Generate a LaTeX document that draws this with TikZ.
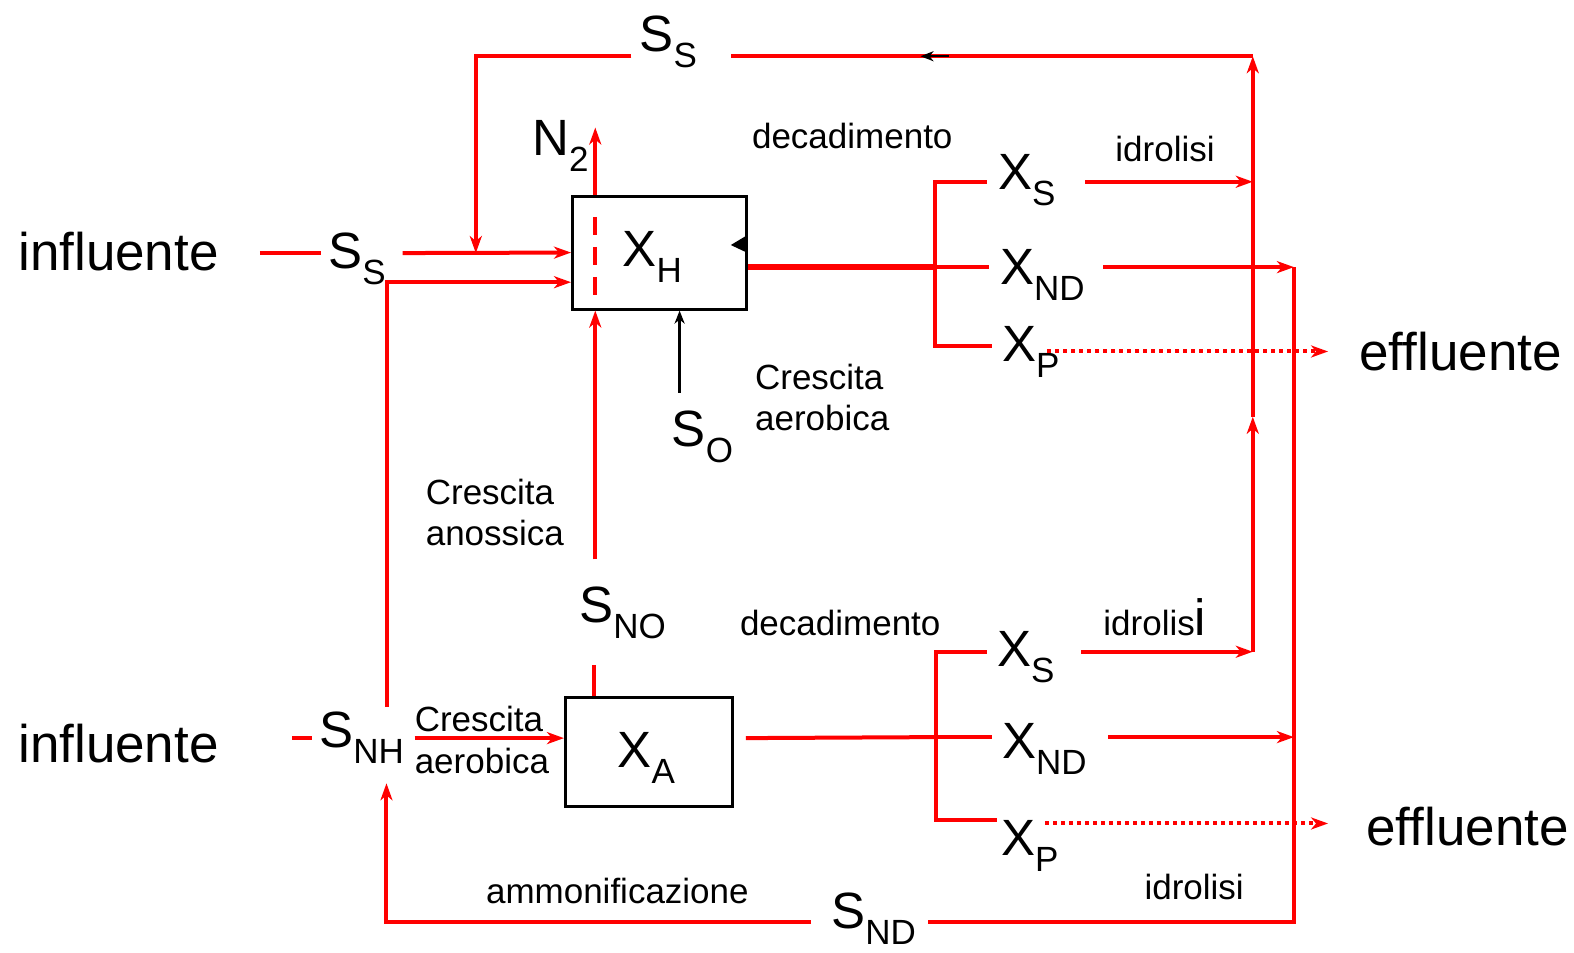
\documentclass[tikz,border=0pt]{standalone}
\usepackage{fontspec}
\setmainfont{Liberation Sans}
\usetikzlibrary{arrows.meta}
\definecolor{flowred}{RGB}{255,0,0}
% main symbol with a lowered subscript
\newcommand{\spc}[2]{#1\raisebox{-16pt}{\fontsize{35}{35}\selectfont #2}}
\begin{document}
\begin{tikzpicture}[x=1.00383pt, y=-1.00422pt,
  flowline/.style={draw=flowred, line width=4pt},
  headred/.style={-{Stealth[length=17pt,width=12pt,inset=5pt]}},
  headblack/.style={draw=black, line width=2.5pt, -{Stealth[length=13pt,width=10pt,inset=4pt]}},
  dotline/.style={flowline, dash pattern=on 4pt off 4pt},
  reactor/.style={draw=black, line width=3pt, minimum width=174pt, minimum height=113pt, inner sep=0pt},
  lbl/.style={inner sep=0pt, anchor=base west},
  bigtxt/.style={lbl, font=\fontsize{51}{51}\selectfont},
  endtxt/.style={lbl, font=\fontsize{53}{53}\selectfont},
  smalltxt/.style={lbl, font=\fontsize{35}{35}\selectfont}]
\useasboundingbox (0,0) rectangle (1568,948);

% ---------- reactors ----------
\node[reactor] (XH) at (657,251.5) {};
\node[reactor, minimum width=167pt, minimum height=109pt] (XA) at (646.5,748.5) {};

% ---------- labels ----------
\node[endtxt] (inf1) at (18,269) {influente};
\node[endtxt] (inf2) at (18,759) {influente};
\node[endtxt] (eff1) at (1354,369) {effluente};
\node[endtxt] (eff2) at (1361,842) {effluente};
\node[bigtxt] (ssL) at (327,267) {\spc{S}{S}};
\node[bigtxt] (ssT) at (637,51) {\spc{S}{S}};
\node[bigtxt] (n2) at (530,155) {\spc{N}{2}};
\node[bigtxt] (xhl) at (620,265) {\spc{X}{H}};
\node[bigtxt] (so) at (669,445) {\spc{S}{O}};
\node[bigtxt] (xs1) at (994,189) {\spc{X}{S}};
\node[bigtxt] (xnd1) at (996,283) {\spc{X}{ND}};
\node[bigtxt] (xp1) at (998,360) {\spc{X}{P}};
\node[bigtxt] (sno) at (577,620) {\spc{S}{NO}};
\node[bigtxt] (xal) at (615,764) {\spc{X}{A}};
\node[bigtxt] (snh) at (318,744) {\spc{S}{NH}};
\node[bigtxt] (xs2) at (993,664) {\spc{X}{S}};
\node[bigtxt] (xnd2) at (998,755) {\spc{X}{ND}};
\node[bigtxt] (xp2) at (997,852) {\spc{X}{P}};
\node[bigtxt] (snd) at (828,925) {\spc{S}{ND}};

\node[smalltxt] (dec1) at (749,148) {decadimento};
\node[smalltxt] (idr1) at (1111,161) {idrolisi};
\node[smalltxt] (cra1) at (752,388) {Crescita};
\node[smalltxt] (cra2) at (752,429) {aerobica};
\node[smalltxt] (cran1) at (424,502) {Crescita};
\node[smalltxt] (cran2) at (424,543) {anossica};
\node[smalltxt] (dec2) at (737,633) {decadimento};
\node[smalltxt] (idr2) at (1099,633) {idrolis{\fontsize{51}{51}\selectfont i}};
\node[smalltxt] (crb1) at (413,728) {Crescita};
\node[smalltxt] (crb2) at (413,770) {aerobica};
\node[smalltxt] (amm) at (484,900) {ammonificazione};
\node[smalltxt] (idr3) at (1140,896) {idrolisi};

% ---------- junction points ----------
\coordinate (tlc) at (474,56);
\coordinate (trc) at (1248,56);
\coordinate (ssTl) at (629,56);
\coordinate (ssTr) at (728,56);
\coordinate (ssjoin) at (474,252);
\coordinate (snhUp) at (386,704);
\coordinate (lcorner) at (386,281);
\coordinate (dnx) at (593,194);
\coordinate (n2tip) at (593,127);
\coordinate (snoTop) at (593,557);
\coordinate (snoBot) at (592,662);
\coordinate (soTail) at (677,391);
\coordinate (brT) at (931,181);
\coordinate (brM) at (931,266);
\coordinate (brB) at (931,345);
\coordinate (brT2) at (932,649);
\coordinate (brM2) at (932,734);
\coordinate (brB2) at (932,817);
\coordinate (hyd1) at (1248,181);
\coordinate (hyd2) at (1248,649);
\coordinate (hydMid) at (1248,415);
\coordinate (ndT) at (1289,266);
\coordinate (ndM) at (1289,734);
\coordinate (ndB) at (1289,918);
\coordinate (sndR) at (924,918);
\coordinate (sndL) at (808,918);
\coordinate (blc) at (385,918);
\coordinate (snhTip) at (385,780);
\coordinate (snhR) at (413,735);

% ---------- S_S recycle loop on top ----------
\draw[flowline, headred] (ssTl) -- (tlc) -- (ssjoin);
\draw[flowline] (trc) -- (ssTr);
\draw[headblack] (945,56) -- (917,56);
\draw[flowline, headred] (hyd2) -- (hydMid);
\draw[flowline, headred] (hydMid) -- (trc);

% ---------- inputs of X_H ----------
\draw[flowline] (259,252) -- (320,252);
\draw[flowline, headred] (401,252) -- (XH.west);
\draw[flowline, headred] (snhUp) -- (lcorner) -- (lcorner -| XH.west);
\draw[flowline, headred] (dnx) -- (n2tip);
\draw[flowline, dash pattern=on 18pt off 12pt] (593,216) -- (593,296);
\draw[flowline, headred] (snoTop) -- (snoTop |- XH.south);
\draw[headblack] (soTail) -- (soTail |- XH.south);
\fill[black] (728,244) -- (743,235) -- (745,252) -- cycle;

% ---------- decay products of X_H ----------
\draw[flowline, line width=5.5pt] (XH.east |- brM) -- (brM);
\draw[flowline] (983,181) -- (brT) -- (brB) -- (988,345);
\draw[flowline] (brM) -- (985,266);
\draw[flowline, headred] (1081,181) -- (hyd1);
\draw[flowline, headred] (1099,266) -- (ndT);
\draw[dotline, headred] (1043,350) -- (1323,350);

% ---------- X_A and its products ----------
\draw[flowline] (snoBot) -- (snoBot |- XA.north);
\draw[flowline] (291,735) -- (311,735);
\draw[flowline, headred] (snhR) -- (snhR -| XA.west);
\draw[flowline] (743,735) -- (brM2);
\draw[flowline] (983,649) -- (brT2) -- (brB2) -- (993,817);
\draw[flowline] (brM2) -- (988,734);
\draw[flowline, headred] (1077,649) -- (hyd2);
\draw[flowline, headred] (1104,734) -- (ndM);
\draw[dotline, headred] (1041,820) -- (1323,820);

% ---------- S_ND return to S_NH ----------
\draw[flowline] (ndT) -- (ndB) -- (sndR);
\draw[flowline, headred] (sndL) -- (blc) -- (snhTip);
\end{tikzpicture}
\end{document}
